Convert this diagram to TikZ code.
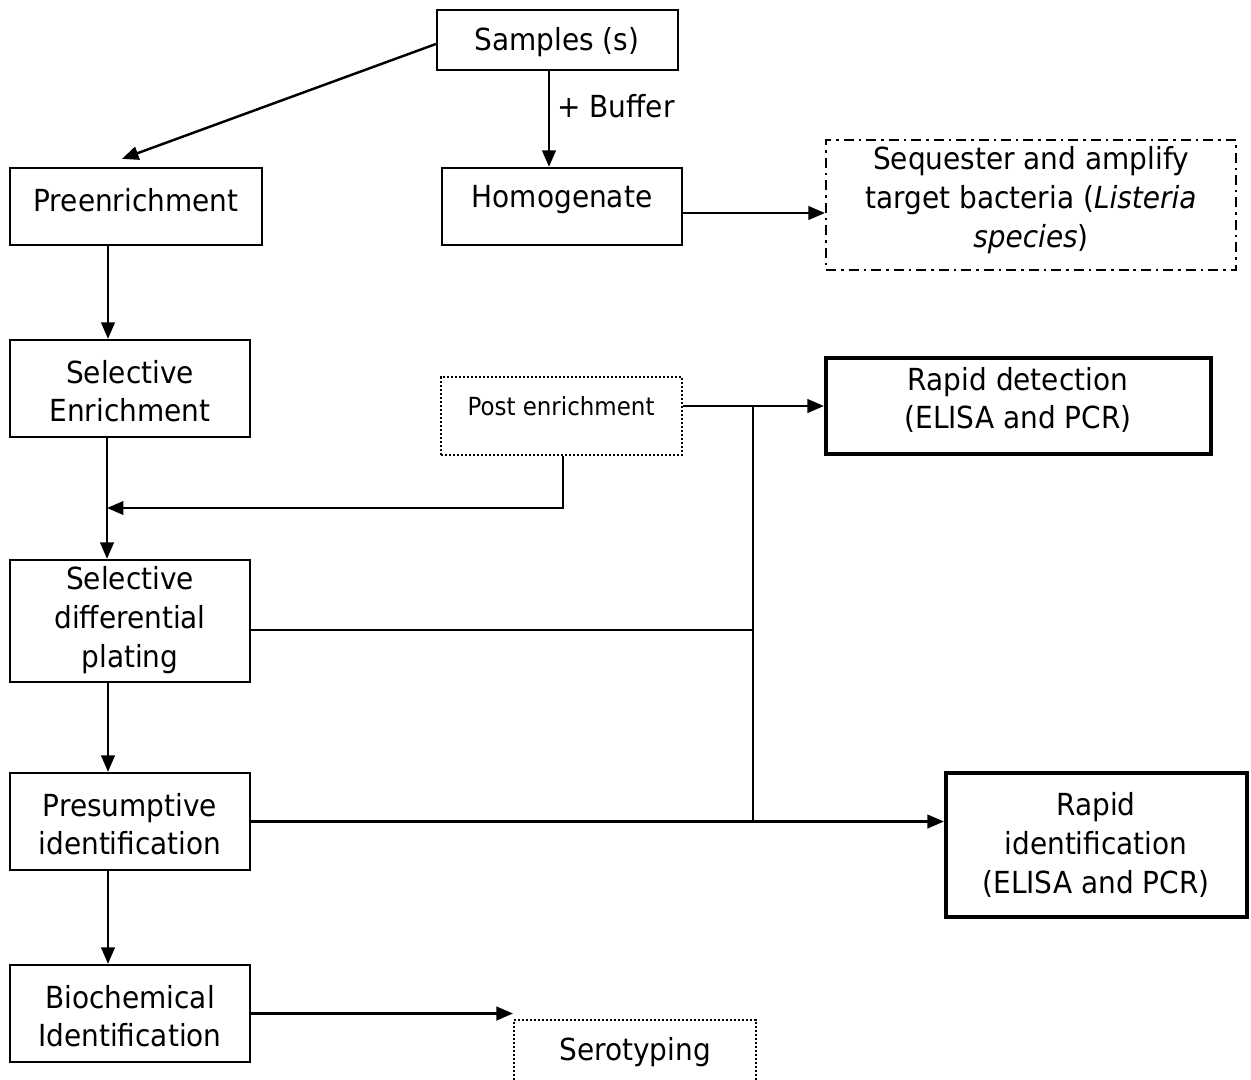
\documentclass[tikz,border=0pt]{standalone}
\usepackage{fontspec}
\setmainfont{DejaVu Sans}[FakeStretch=0.92]
\usetikzlibrary{arrows.meta,calc}

\begin{document}
\begin{tikzpicture}[x=0.02cm,y=-0.02cm,
    box/.style={draw, line width=1.3pt, rectangle, inner sep=0pt},
    thickbox/.style={draw, line width=2.4pt, rectangle, inner sep=0pt},
    dotbox/.style={draw, line width=1.2pt, rectangle, inner sep=0pt,
      dash pattern=on 0.04cm off 0.04cm},
    dashdotbox/.style={draw, line width=1.3pt, rectangle, inner sep=0pt,
      dash pattern=on 0.2cm off 0.1cm on 0.05cm off 0.1cm},
    txt/.style={align=center, inner sep=0pt,
      font=\fontsize{17.3}{22}\selectfont},
    smalltxt/.style={align=center, inner sep=0pt,
      font=\fontsize{14.2}{18}\selectfont},
    line/.style={line width=1.4pt},
    arr/.style={line width=1.4pt, -{Triangle[length=0.33cm,width=0.27cm]}}]

  % page frame
  \clip (0,0) rectangle (1251,1079);

  % boxes
  \node[box, minimum width=4.82cm, minimum height=1.2cm] (samples) at (557.5,40) {};
  \node[box, minimum width=5.04cm, minimum height=1.54cm] (pre) at (136,206.5) {};
  \node[box, minimum width=4.8cm, minimum height=1.54cm] (homog) at (562,206.5) {};
  \node[dashdotbox, minimum width=8.2cm, minimum height=2.6cm] (seq) at (1031,205) {};
  \node[box, minimum width=4.8cm, minimum height=1.94cm] (selenr) at (130,388.5) {};
  \node[dotbox, minimum width=4.82cm, minimum height=1.56cm] (post) at (561.5,416) {};
  \node[thickbox, minimum width=7.7cm, minimum height=1.92cm] (rdet) at (1018.5,406) {};
  \node[box, minimum width=4.8cm, minimum height=2.44cm] (seldiff) at (130,621) {};
  \node[box, minimum width=4.8cm, minimum height=1.94cm] (presump) at (130,821.5) {};
  \node[thickbox, minimum width=6.02cm, minimum height=2.88cm] (rid) at (1096.5,845) {};
  \node[box, minimum width=4.8cm, minimum height=1.94cm] (biochem) at (130,1013.5) {};
  \node[dotbox, minimum width=4.84cm, minimum height=1.56cm] (sero) at (635,1059) {};

  % box texts
  \node[txt] (t-samples) at (557,42) {Samples (s)};
  \node[txt] (t-pre) at (136,200) {Preenrichment};
  \node[txt] (t-homog) at (562,200) {Homogenate};
  \node[txt] (t-seq) at (1031,200) {Sequester and amplify\\target bacteria (\textit{Listeria}\\\textit{species})};
  \node[txt] (t-selenr) at (130,391) {Selective\\Enrichment};
  \node[smalltxt] (t-post) at (561,406) {Post enrichment};
  \node[txt] (t-rdet) at (1018,400) {Rapid detection\\(ELISA and PCR)};
  \node[txt] (t-seldiff) at (130,620) {Selective\\differential\\plating};
  \node[txt] (t-presump) at (130,824) {Presumptive\\identification};
  \node[txt] (t-rid) at (1096,845) {Rapid\\identification\\(ELISA and PCR)};
  \node[txt] (t-biochem) at (130,1016) {Biochemical\\Identification};
  \node[txt] (t-sero) at (635,1052) {Serotyping};

  % samples to preenrichment and homogenate
  \draw[arr] ([yshift=-0.08cm]samples.west) -- ($(pre.north)+(-14,-8)$);
  \draw[arr] ([xshift=-0.17cm]samples.south) coordinate (b0) -- (b0 |- homog.north);
  \node[txt, anchor=west] (buffer) at (557,106) {+ Buffer};

  % homogenate to sequestration
  \draw[arr] ([yshift=-0.13cm]homog.east) coordinate (h0) -- (h0 -| seq.west);

  % main vertical chain
  \draw[arr] ([xshift=-0.56cm]pre.south) coordinate (p0) -- (p0 |- selenr.north);
  \draw[arr] ([xshift=-0.46cm]selenr.south) coordinate (e0) -- (e0 |- seldiff.north);
  \draw[arr] ([xshift=-0.44cm]seldiff.south) coordinate (d0) -- (d0 |- presump.north);
  \draw[arr] ([xshift=-0.44cm]presump.south) coordinate (r0) -- (r0 |- biochem.north);

  % post enrichment feeds back into the chain
  \coordinate (merge) at (107,508);
  \draw[arr] ([xshift=0.03cm]post.south) |- (merge);

  % post enrichment to rapid detection, with collecting bus
  \coordinate (bus) at (753,407);
  \draw[arr] (post.east |- rdet.west) -- (rdet.west);
  \draw[line] (bus) -- (bus |- presump.east);
  \draw[line] ([yshift=-0.18cm]seldiff.east) coordinate (s0) -- (s0 -| bus);

  % presumptive to rapid identification
  \draw[arr] (presump.east) -- (presump.east -| rid.west);

  % biochemical to serotyping
  \draw[arr] (biochem.east) -- (biochem.east -| sero.west);
\end{tikzpicture}
\end{document}
